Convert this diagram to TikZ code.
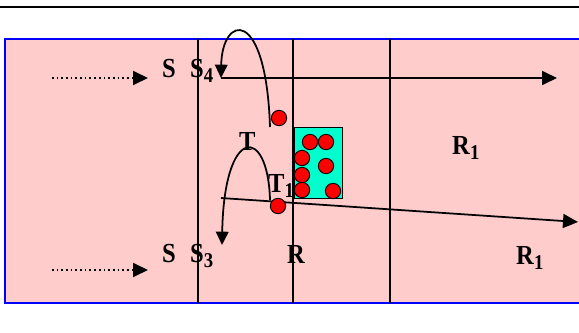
\documentclass[tikz,border=0pt]{standalone}
\usepackage{fontspec}
\setmainfont{Liberation Serif}
\usetikzlibrary{arrows.meta}

\definecolor{fieldpink}{RGB}{255,204,204}
\definecolor{packteal}{RGB}{0,255,204}
\newcommand{\lowsub}[1]{\raisebox{-0.45ex}{\fontsize{16}{16}\selectfont #1}}
\newcommand{\tall}[1]{\scalebox{1}[1.12]{#1}}

\begin{document}
\begin{tikzpicture}[
  x=0.3mm,y=-0.3mm,
  rim/.style={draw=blue,line width=1.5pt},
  lane/.style={draw=black,line width=1.2pt},
  flow/.style={draw=black,line width=1.5pt,-{Triangle[length=4.5mm,width=4.2mm]}},
  hop/.style={draw=black,line width=1.5pt,-{Triangle[length=4mm,width=3.8mm]}},
  feed/.style={draw=black,line width=1.6pt,dash pattern=on 1.4pt off 2.6pt,
    -{Triangle[length=4.5mm,width=4.2mm]}},
  ball/.style={circle,draw=black,fill=red,line width=.8pt,minimum size=4.6mm,inner sep=0pt},
  pack/.style={draw=black,fill=packteal,line width=.8pt},
  tag/.style={font=\fontsize{21}{24}\selectfont\bfseries,inner sep=0pt,anchor=base west}
]
  \useasboundingbox (0,0) rectangle (579,332);
  \draw[line width=2pt] (0,7) -- (579,7);

  % field and lanes
  \fill[fieldpink] (5,39) rectangle (579,303);
  \draw[rim] (579,39) -- (5,39) -- (5,303) -- (579,303);
  \foreach \x in {198,293,390}
    \draw[lane] (\x,39) -- (\x,303);

  % labels
  \node[tag] (ss4) at (162,77) {\tall{S\hspace{0.58em}S\lowsub{4}}};
  \node[tag] (ss3) at (162,262) {\tall{S\hspace{0.58em}S\lowsub{3}}};
  \node[tag] (t) at (239,150) {\tall{T}};
  \node[tag] (t1) at (268,192) {\tall{T\lowsub{1}}};
  \node[tag] (r1top) at (452,154) {\tall{R\lowsub{1}}};
  \node[tag] (r) at (287,263) {\tall{R}};
  \node[tag] (r1low) at (516,264) {\tall{R\lowsub{1}}};

  % ends of the connectors
  \coordinate (in4) at (52,78);
  \coordinate (at4) at (148,78);
  \coordinate (in3) at (52,270);
  \coordinate (at3) at (148,270);
  \coordinate (upfoot) at (270,127);
  \coordinate (uptip) at (221,78);
  \coordinate (upend) at (557,78);
  \coordinate (lowfoot) at (270,200);
  \coordinate (lowtip) at (222,245);
  \coordinate (slant) at (221,198);
  \coordinate (slantend) at (578,222);

  \draw[feed] (in4) -- (at4);
  \draw[feed] (in3) -- (at3);
  \draw[flow] (uptip) -- (upend);
  \draw[flow] (slant) -- (slantend);
  \draw[hop] (upfoot) .. controls (266,5) and (222,15) .. (uptip);
  \draw[hop] (lowfoot) .. controls (268,125) and (224,125) .. (lowtip);

  % cluster
  \draw[pack] (294,127) rectangle (342,198);
  \foreach \name/\x/\y in {b1/310/142,b2/326/142,b3/302/158,b4/326/166,
                           b5/302/175,b6/302/190,b7/333/191}
    \node[ball] (\name) at (\x,\y) {};
  \node[ball] (upball) at (279,118) {};
  \node[ball] (lowball) at (278,206) {};
\end{tikzpicture}
\end{document}
